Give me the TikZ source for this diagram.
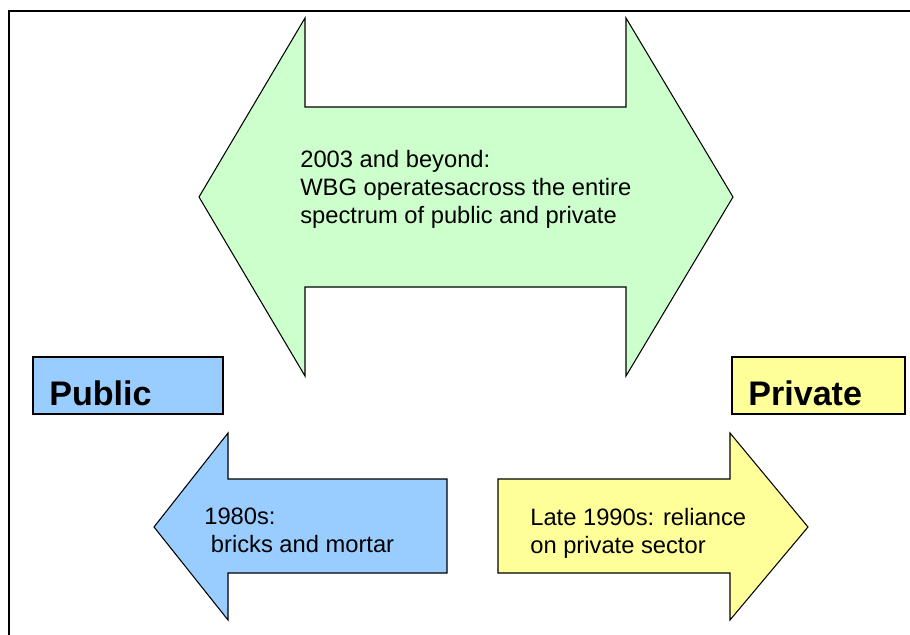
\documentclass[tikz,border=0pt]{standalone}
\usepackage{fontspec}
\setmainfont{Liberation Sans}
\usepackage{xcolor}
\usetikzlibrary{positioning}

\definecolor{spanGreen}{RGB}{204,255,204}
\definecolor{publicBlue}{RGB}{153,204,255}
\definecolor{privateYellow}{RGB}{255,255,153}

\tikzset{
  shapeline/.style={draw=black, line width=0.6pt, line join=miter},
  bodytext/.style={font=\fontsize{13.5}{15.9}\selectfont, align=left, inner sep=0pt, anchor=north west},
  bigtext/.style={font=\fontsize{19.4}{22}\selectfont\bfseries, inner sep=0pt, anchor=base west}
}

\begin{document}
\begin{tikzpicture}[x=0.02cm, y=-0.02cm]
        \useasboundingbox (0,0) rectangle (910,635);
        % outer frame (only top and left edges fall inside the page)
        \draw[line width=1.1pt] (910,11) -- (9,11) -- (9,635);
        % Big double arrow: 2003 and beyond
        \def\headL{305}  % left head base
        \def\headR{626}  % right head base
        \def\midY{197}
        \fill[spanGreen] (199,\midY) -- (\headL,18) -- (\headL,107) -- (\headR,107) -- (\headR,18)
            -- (733,\midY) -- (\headR,376) -- (\headR,287) -- (\headL,287) -- (\headL,376) -- cycle;
        \draw[shapeline] (199,\midY) -- (\headL,18) -- (\headL,107) -- (\headR,107) -- (\headR,18)
            -- (733,\midY) -- (\headR,376) -- (\headR,287) -- (\headL,287) -- (\headL,376) -- cycle;
        \node[bodytext] (txtSpan) at (300,150) {2003 and beyond:\\WBG operatesacross the entire\\spectrum of public and private};
        % Sector labels
        \draw[shapeline, fill=publicBlue] (33,357) rectangle (223,414);
        \node[bigtext] (lblPublic) at (49,405) {Public};
        \draw[shapeline, fill=privateYellow] (732,357) rectangle (905,414);
        \node[bigtext] (lblPrivate) at (748,405) {Private};
        % Left arrow: 1980s
        \draw[shapeline, fill=publicBlue] (154,527) -- (228,433) -- (228,479) -- (447,479)
            -- (447,573) -- (228,573) -- (228,620) -- cycle;
        \node[bodytext] (txtEighties) at (204,508) {1980s:\\\hspace*{3.75pt}bricks and mortar};
        % Right arrow: late 1990s
        \draw[shapeline, fill=privateYellow] (808,527) -- (730,433) -- (730,479) -- (498,479)
            -- (498,573) -- (730,573) -- (730,620) -- cycle;
        \node[bodytext] (txtNineties) at (530,508) {Late 1990s: reliance\\on private sector};
\end{tikzpicture}
\end{document}
